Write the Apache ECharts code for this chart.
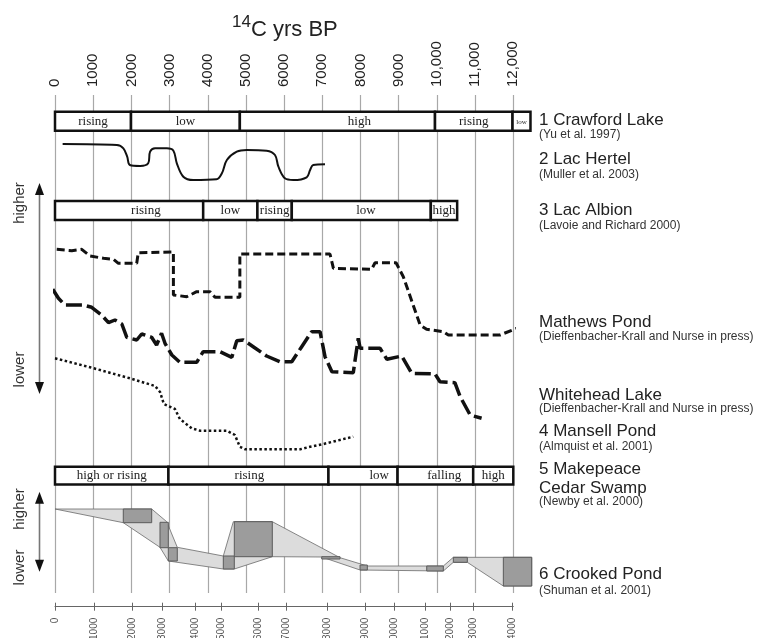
<!DOCTYPE html>
<html>
<head>
<meta charset="utf-8">
<title>Lake level records</title>
<script src="https://cdn.jsdelivr.net/npm/echarts@6/dist/echarts.min.js"></script>
<style>
  html, body { margin: 0; padding: 0; background: #fff; }
  #chart { width: 778px; height: 638px; }
</style>
</head>
<body>
<div id="chart"></div>
<script>
// top axis, 14C yrs BP
var c14Ticks = [0, 1000, 2000, 3000, 4000, 5000, 6000, 7000, 8000, 9000, 10000, 11000, 12000];

// bottom axis: calendar years and where they sit on the 14C scale
var calLabels = [0, 1000, 2000, 3000, 4000, 5000, 6000, 7000, 8000, 9000, 10000, 11000, 12000, 13000, 14000];
var calAt14C = [0, 1030, 2010, 2820, 3670, 4365, 5325, 6065, 7130, 8115, 8885, 9690, 10360, 10955, 11960];

// 1 Crawford Lake
var crawfordBreaks = [0, 1990, 4840, 9950, 11980, 12450];
var crawfordStates = ['rising', 'low', 'high', 'rising', 'low'];
var crawfordLabelAt = [null, null, 7970, null, null];

// 2 Lac Hertel (relative level)
var hertelAge = [200, 1620, 1790, 1890, 1960, 2230, 2440, 2490, 2620, 2930, 3100, 3190, 3360, 3620, 4230, 4370, 4500, 4760, 5020, 5540, 5760, 5850, 6020, 6240, 6590, 6680, 6760, 7070];
var hertelLevel = [41, 40, 36.7, 28.3, 20, 19, 21.7, 33.3, 36.7, 36.7, 34.3, 21.7, 8.3, 5, 5.7, 11.7, 25, 33.3, 35, 34.3, 30, 18.3, 6.7, 5, 7.7, 15, 20, 20.7];

// 3 Lac Albion
var albionBreaks = [0, 3880, 5300, 6200, 9840, 10530];
var albionStates = ['rising', 'low', 'rising', 'low', 'high'];
var albionLabelAt = [2380, null, null, 8140, null];

// Mathews Pond
var mathewsAge = [45, 440, 700, 920, 1270, 1530, 1660, 2140, 2180, 3100, 3100, 3450, 3710, 4060, 4190, 4840, 4840, 7200, 7290, 8290, 8380, 8930, 9120, 9560, 9730, 10170, 10300, 11650, 12130];
var mathewsLevel = [205.7, 204.3, 205.7, 199, 196.7, 195.7, 191.7, 191.7, 202.3, 203, 160, 158.3, 163.3, 163.3, 157.7, 157.7, 201, 201, 186.7, 185.7, 192.3, 192.3, 178.3, 130, 125.7, 123.3, 120, 120, 127.3];

// Whitehead Lake
var whiteheadAge = [-60, 90, 260, 740, 960, 1220, 1400, 1570, 1750, 1880, 2140, 2270, 2530, 2660, 2790, 2880, 3060, 3270, 3710, 3880, 4320, 4630, 4760, 4930, 5190, 5540, 5890, 6200, 6460, 6720, 6940, 7070, 7250, 7810, 7940, 7990, 8510, 8690, 9080, 9340, 9950, 10080, 10470, 10610, 10870, 11170];
var whiteheadLevel = [165.7, 156.7, 150, 150, 147.7, 140, 132.3, 135, 131, 117.7, 115, 121, 117.7, 110, 121.7, 111.7, 100, 92.7, 92.7, 103.3, 103.3, 97.7, 114.3, 115, 108.3, 99, 93.3, 93.3, 108.3, 123.3, 123.3, 98.3, 83.3, 82.3, 116.7, 106.7, 106.7, 95.7, 99, 81.7, 81, 73.3, 72.3, 58.3, 40, 36.7];

// 4 Mansell Pond
var mansellAge = [0, 920, 1960, 2620, 2750, 2850, 3140, 3270, 3580, 3800, 4500, 4710, 4840, 4980, 6420, 6680, 7030, 7380, 7810];
var mansellLevel = [96.7, 87.7, 76.7, 69, 63, 51, 46, 36, 26.7, 24.3, 24.3, 20, 8.3, 5.7, 5.7, 8.3, 11, 14.3, 18.3];

// 5 Makepeace Cedar Swamp
var makepeaceBreaks = [0, 2970, 7160, 8970, 10950, 12000];
var makepeaceStates = ['high or rising', 'rising', 'low', 'falling', 'high'];
var makepeaceLabelAt = [null, 5090, 8490, 10190, null];

// 6 Crooked Pond: envelope and dated boxes [age from, age to, level low, level high]
var crookedUpper = [[0, 86], [2532, 86], [2925, 73.3], [3202, 47.7], [4407, 39], [4669, 73.3], [5690, 73.3], [7463, 37.3], [8178, 29], [10168, 29], [10430, 37.7], [12482, 37.7]];
var crookedLower = [[0, 86], [1788, 72.3], [2749, 47.7], [2967, 34], [4407, 26], [4695, 26], [5690, 38.3], [6984, 38], [7987, 25], [10168, 24], [10430, 32.7], [10796, 32.7], [11739, 9], [12482, 9]];
var crookedBoxes = [
  [1788, 2532, 72.3, 86],
  [2749, 2967, 47.3, 72.7],
  [2967, 3202, 34, 47.3],
  [4407, 4695, 26, 39],
  [4695, 5690, 38.3, 73.3],
  [6984, 7463, 36, 38.3],
  [7987, 8178, 25, 30],
  [9733, 10168, 24, 29],
  [10430, 10796, 32.7, 37.7],
  [11739, 12482, 9, 37.7]
];

var chart = echarts.init(document.getElementById('chart'));

function fmtYear(v) {
  if (v >= 10000) return Math.floor(v / 1000) + ',' + String(v % 1000 + 1000).slice(1);
  return String(v);
}

function zip(a, b) {
  var out = [];
  for (var i = 0; i < a.length; i++) out.push([a[i], b[i]]);
  return out;
}

function segments(breaks, labelAt) {
  var out = [];
  for (var i = 0; i < breaks.length - 1; i++) {
    var mid = labelAt[i] != null ? labelAt[i] : (breaks[i] + breaks[i + 1]) / 2;
    out.push([breaks[i], breaks[i + 1], mid]);
  }
  return out;
}

function barRenderer(states) {
  return function (params, api) {
    var a = api.coord([api.value(0), 1]);
    var b = api.coord([api.value(1), 0]);
    var c = api.coord([api.value(2), 0.5]);
    var w = b[0] - a[0];
    return {
      type: 'group',
      children: [
        { type: 'rect', shape: { x: a[0], y: a[1], width: w, height: b[1] - a[1] },
          style: { fill: '#fff', stroke: '#111', lineWidth: 2.5 } },
        { type: 'text', x: c[0], y: c[1] + 0.5,
          style: { text: states[params.dataIndex], fontFamily: 'Liberation Serif',
                   fontSize: w < 25 ? 7 : 13, fill: '#222', align: 'center', verticalAlign: 'middle' } }
      ]
    };
  };
}

// grids: 0 background lines, 1 Crawford, 2 Hertel, 3 Albion, 4 middle curves, 5 Makepeace, 6 Crooked, 7 bottom axis
var L = 55, W = 458.3;
var gridTops = [95, 111.7, 140, 201, 240, 466.7, 500, 570];
var gridHeights = [498, 19, 45, 19, 215, 17.7, 95, 36.7];
var yMax = [1, 1, 45, 1, 215, 1, 95, 1];

var grids = [];
var xAxes = [];
var yAxes = [];
for (var g = 0; g < gridTops.length; g++) {
  grids.push({ left: L, width: W, top: gridTops[g], height: gridHeights[g], outerBoundsMode: 'none', containLabel: false });
  xAxes.push({ type: 'value', gridIndex: g, min: 0, max: 12000, show: false });
  yAxes.push({ type: 'value', gridIndex: g, min: 0, max: yMax[g], show: false });
}
xAxes[0] = {
  type: 'value', gridIndex: 0, min: 0, max: 12000, interval: 1000, position: 'top',
  axisLine: { show: false }, axisTick: { show: false },
  axisLabel: { rotate: 90, margin: 8, fontSize: 15, fontFamily: 'Liberation Sans', color: '#222',
               formatter: fmtYear },
  splitLine: { show: true, lineStyle: { color: '#a8a8a8', width: 1.2 } }
};
xAxes[7] = {
  type: 'value', gridIndex: 7, min: 0, max: 12000, position: 'bottom',
  axisLine: { show: true, lineStyle: { color: '#666', width: 1 } },
  axisTick: { show: true, inside: true, length: 4, customValues: calAt14C, lineStyle: { color: '#666' } },
  axisLabel: { show: false },
  splitLine: { show: false }
};
xAxes.push({
  type: 'value', gridIndex: 7, min: 0, max: 12000, position: 'bottom',
  axisLine: { show: false },
  axisTick: { show: true, length: 4, customValues: calAt14C, lineStyle: { color: '#666' } },
  axisLabel: { show: true, rotate: 90, margin: 11, fontSize: 10, fontFamily: 'Liberation Sans', color: '#555',
               customValues: calAt14C,
               formatter: function (v) {
                 var i = calAt14C.indexOf(v);
                 return i < 0 ? '' : String(calLabels[i]);
               } },
  splitLine: { show: false }
});

function arrow(x, yTop, yBot) {
  return [
    { type: 'line', shape: { x1: x, y1: yTop + 10, x2: x, y2: yBot - 10 }, style: { stroke: '#777', lineWidth: 1.6 } },
    { type: 'polygon', shape: { points: [[x, yTop], [x - 4.5, yTop + 12], [x + 4.5, yTop + 12]] }, style: { fill: '#111' } },
    { type: 'polygon', shape: { points: [[x, yBot], [x - 4.5, yBot - 12], [x + 4.5, yBot - 12]] }, style: { fill: '#111' } }
  ];
}
function sideWord(text, y) {
  return { type: 'text', x: 20, y: y, rotation: Math.PI / 2,
           style: { text: text, fontSize: 15, fontFamily: 'Liberation Sans', fill: '#333', align: 'center', verticalAlign: 'middle' } };
}
function siteText(text, y, big) {
  return { type: 'text', x: 539, y: y,
           style: { text: text, fontSize: big ? 17 : 12, fontFamily: 'Liberation Sans', fill: big ? '#222' : '#333',
                    align: 'left', verticalAlign: 'middle' } };
}

var graphics = [
  { type: 'text', x: 232, y: 22.5, style: { text: '14', fontSize: 17, fontFamily: 'Liberation Sans', fill: '#222', verticalAlign: 'middle' } },
  { type: 'text', x: 251, y: 30, style: { text: 'C yrs BP', fontSize: 22, fontFamily: 'Liberation Sans', fill: '#222', verticalAlign: 'middle' } },
  sideWord('higher', 203), sideWord('lower', 369.5), sideWord('higher', 509), sideWord('lower', 567.5),
  siteText('1 Crawford Lake', 120, true), siteText('(Yu et al. 1997)', 135),
  siteText('2 Lac Hertel', 159.5, true), siteText('(Muller et al. 2003)', 174.5),
  siteText('3 Lac Albion', 210.5, true), siteText('(Lavoie and Richard 2000)', 225.5),
  siteText('Mathews Pond', 322.5, true), siteText('(Dieffenbacher-Krall and Nurse in press)', 337),
  siteText('Whitehead Lake', 395, true), siteText('(Dieffenbacher-Krall and Nurse in press)', 408.5),
  siteText('4 Mansell Pond', 431.5, true), siteText('(Almquist et al. 2001)', 447),
  siteText('5 Makepeace', 469, true), siteText('Cedar Swamp', 488, true), siteText('(Newby et al. 2000)', 502),
  siteText('6 Crooked Pond', 574.5, true), siteText('(Shuman et al. 2001)', 590.5)
].concat(arrow(39.5, 183, 394), arrow(39.5, 491.7, 571.7));

var option = {
  animation: false,
  backgroundColor: '#fff',
  grid: grids,
  xAxis: xAxes,
  yAxis: yAxes,
  graphic: graphics,
  series: [
    {
      name: 'Crawford Lake', type: 'custom', xAxisIndex: 1, yAxisIndex: 1, clip: false, z: 5,
      renderItem: barRenderer(crawfordStates), data: segments(crawfordBreaks, crawfordLabelAt)
    },
    {
      name: 'Lac Hertel', type: 'line', xAxisIndex: 2, yAxisIndex: 2, symbol: 'none', smooth: 0.35,
      lineStyle: { color: '#111', width: 2 }, data: zip(hertelAge, hertelLevel)
    },
    {
      name: 'Lac Albion', type: 'custom', xAxisIndex: 3, yAxisIndex: 3, clip: false, z: 5,
      renderItem: barRenderer(albionStates), data: segments(albionBreaks, albionLabelAt)
    },
    {
      name: 'Mathews Pond', type: 'line', xAxisIndex: 4, yAxisIndex: 4, symbol: 'none', clip: false,
      lineStyle: { color: '#111', width: 3, type: [8, 4] }, data: zip(mathewsAge, mathewsLevel)
    },
    {
      name: 'Whitehead Lake', type: 'line', xAxisIndex: 4, yAxisIndex: 4, symbol: 'none', clip: false,
      lineStyle: { color: '#111', width: 3.5, type: [16, 5] }, data: zip(whiteheadAge, whiteheadLevel)
    },
    {
      name: 'Mansell Pond', type: 'line', xAxisIndex: 4, yAxisIndex: 4, symbol: 'none', clip: false,
      lineStyle: { color: '#111', width: 2.5, type: [2.5, 2.5] }, data: zip(mansellAge, mansellLevel)
    },
    {
      name: 'Makepeace Cedar Swamp', type: 'custom', xAxisIndex: 5, yAxisIndex: 5, clip: false, z: 5,
      renderItem: barRenderer(makepeaceStates), data: segments(makepeaceBreaks, makepeaceLabelAt)
    },
    {
      name: 'Crooked Pond envelope', type: 'custom', xAxisIndex: 6, yAxisIndex: 6, clip: false, z: 3,
      data: [0],
      renderItem: function (params, api) {
        var pts = [];
        crookedUpper.forEach(function (p) { pts.push(api.coord(p)); });
        crookedLower.slice().reverse().forEach(function (p) { pts.push(api.coord(p)); });
        return { type: 'polygon', shape: { points: pts }, style: { fill: '#dcdcdc', stroke: '#6a6a6a', lineWidth: 0.8 } };
      }
    },
    {
      name: 'Crooked Pond', type: 'custom', xAxisIndex: 6, yAxisIndex: 6, clip: false, z: 4,
      data: crookedBoxes,
      renderItem: function (params, api) {
        var a = api.coord([api.value(0), api.value(3)]);
        var b = api.coord([api.value(1), api.value(2)]);
        return { type: 'rect', shape: { x: a[0], y: a[1], width: b[0] - a[0], height: b[1] - a[1] },
                 style: { fill: '#9c9c9c', stroke: '#5a5a5a', lineWidth: 1 } };
      }
    }
  ]
};

chart.setOption(option);
</script>
</body>
</html>
